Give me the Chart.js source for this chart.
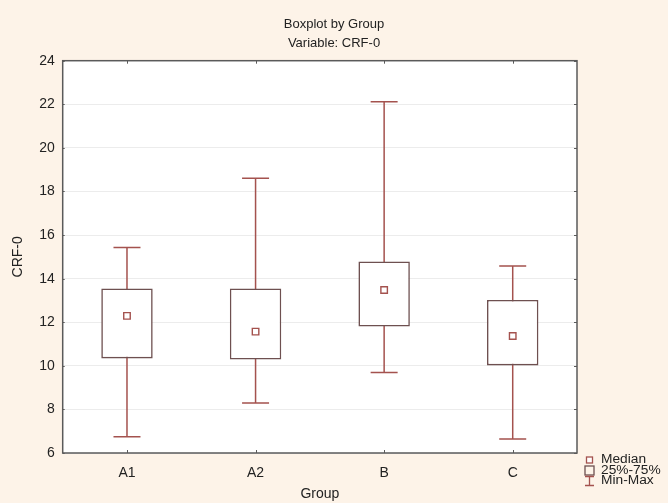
<!DOCTYPE html>
<html>
<head>
<meta charset="utf-8">
<script src="https://cdn.jsdelivr.net/npm/chart.js@4.4.1/dist/chart.umd.min.js"></script>
<style>
    html, body { margin: 0; padding: 0; background: #fdf3e8; }
    #wrap { width: 668px; height: 503px; position: relative; }
</style>
</head>
<body>
<div id="wrap"><canvas id="boxChart"></canvas></div>
<script>
// Data
const groups = ['A1', 'A2', 'B', 'C'];
const minVals = [6.75, 8.29, 9.69, 6.64];
const q1Vals = [10.34, 10.29, 11.8, 10.02];
const medianVals = [12.29, 11.57, 13.48, 11.37];
const q3Vals = [13.55, 13.55, 14.79, 13.02];
const maxVals = [15.43, 18.61, 22.12, 14.58];
const yTicks = [6, 8, 10, 12, 14, 16, 18, 20, 22, 24];

const legendItems = ['Median', '25%-75%', 'Min-Max'];

const FONT = 'Liberation Sans, Arial, Helvetica, sans-serif';
const WHISKER = '#a4524e';
const BOXLINE = '#6e5050';
const FRAME = '#5a5a5a';
const TEXT = '#222222';

// white plot area on the cream page
const plotBackground = {
    id: 'plotBackground',
    beforeDraw(chart) {
        const { ctx, chartArea: a } = chart;
        ctx.save();
        ctx.fillStyle = '#fdf3e8';
        ctx.fillRect(0, 0, chart.width, chart.height);
        ctx.fillStyle = '#ffffff';
        ctx.fillRect(a.left, a.top, a.right - a.left, a.bottom - a.top);
        ctx.restore();
    }
};

// min-max whiskers with caps, drawn under the boxes
const whiskers = {
    id: 'whiskers',
    beforeDatasetsDraw(chart) {
        const { ctx, scales: { x, y } } = chart;
        const capHalf = 13.5;
        ctx.save();
        ctx.strokeStyle = WHISKER;
        ctx.lineWidth = 1.5;
        groups.forEach((g, i) => {
            const px = x.getPixelForValue(i);
            const yLo = y.getPixelForValue(minVals[i]);
            const yHi = y.getPixelForValue(maxVals[i]);
            ctx.beginPath();
            ctx.moveTo(px, yLo);
            ctx.lineTo(px, yHi);
            ctx.moveTo(px - capHalf, yLo);
            ctx.lineTo(px + capHalf, yLo);
            ctx.moveTo(px - capHalf, yHi);
            ctx.lineTo(px + capHalf, yHi);
            ctx.stroke();
        });
        ctx.restore();
    }
};

// frame round the plot plus the small inner tick marks
const frame = {
    id: 'frame',
    afterDatasetsDraw(chart) {
        const { ctx, chartArea: a, scales: { x, y } } = chart;
        ctx.save();
        ctx.strokeStyle = FRAME;
        ctx.lineWidth = 1.5;
        ctx.strokeRect(a.left, a.top, a.right - a.left, a.bottom - a.top);
        ctx.lineWidth = 1;
        ctx.beginPath();
        groups.forEach((g, i) => {
            const px = Math.round(x.getPixelForValue(i)) + 0.5;
            ctx.moveTo(px, a.top);
            ctx.lineTo(px, a.top + 3);
            ctx.moveTo(px, a.bottom);
            ctx.lineTo(px, a.bottom - 3);
        });
        yTicks.forEach(v => {
            const py = Math.round(y.getPixelForValue(v)) + 0.5;
            ctx.moveTo(a.right, py);
            ctx.lineTo(a.right - 3, py);
            ctx.moveTo(a.left, py);
            ctx.lineTo(a.left + 2, py);
        });
        ctx.stroke();
        ctx.restore();
    }
};

// legend in the bottom right corner
const cornerLegend = {
    id: 'cornerLegend',
    afterDraw(chart) {
        const { ctx, chartArea: a } = chart;
        const ix = a.right + 8;
        const tx = a.right + 24;
        const rows = [a.bottom + 7, a.bottom + 17.5, a.bottom + 28];
        ctx.save();
        ctx.lineWidth = 1.3;

        // median marker
        ctx.strokeStyle = WHISKER;
        ctx.fillStyle = '#ffffff';
        ctx.fillRect(ix + 1.5, rows[0] - 3, 6, 6);
        ctx.strokeRect(ix + 1.5, rows[0] - 3, 6, 6);

        // box marker
        ctx.strokeStyle = BOXLINE;
        ctx.strokeRect(ix, rows[1] - 4.5, 9, 9);

        // whisker marker
        ctx.strokeStyle = WHISKER;
        ctx.beginPath();
        ctx.moveTo(ix + 4.5, rows[2] - 4.5);
        ctx.lineTo(ix + 4.5, rows[2] + 4.5);
        ctx.moveTo(ix, rows[2] - 4.5);
        ctx.lineTo(ix + 9, rows[2] - 4.5);
        ctx.moveTo(ix, rows[2] + 4.5);
        ctx.lineTo(ix + 9, rows[2] + 4.5);
        ctx.stroke();

        // slightly wide, short lettering like the original
        ctx.fillStyle = TEXT;
        ctx.font = '12.5px ' + FONT;
        ctx.textBaseline = 'middle';
        ctx.textAlign = 'left';
        legendItems.forEach((t, i) => {
            ctx.save();
            ctx.translate(tx, rows[i]);
            ctx.scale(1.1, 1);
            ctx.fillText(t, 0, 0);
            ctx.restore();
        });
        ctx.restore();
    }
};

const ctx = document.getElementById('boxChart').getContext('2d');

new Chart(ctx, {
    type: 'bar',
    data: {
        labels: groups,
        datasets: [
            {
                type: 'line',
                label: 'Median',
                data: medianVals,
                showLine: false,
                pointStyle: 'rect',
                pointRadius: 4.6,
                pointBackgroundColor: '#ffffff',
                pointBorderColor: WHISKER,
                pointBorderWidth: 1.4,
                order: 1
            },
            {
                label: '25%-75%',
                data: groups.map((g, i) => [q1Vals[i], q3Vals[i]]),
                backgroundColor: '#ffffff',
                borderColor: BOXLINE,
                borderWidth: 1.6,
                borderSkipped: false,
                barPercentage: 0.4,
                categoryPercentage: 1.0,
                order: 2
            }
        ]
    },
    options: {
        responsive: true,
        maintainAspectRatio: false,
        animation: false,
        layout: {
            padding: 0
        },
        plugins: {
            legend: { display: false },
            tooltip: { enabled: false },
            title: {
                display: true,
                text: ['Boxplot by Group', 'Variable: CRF-0'],
                color: TEXT,
                font: { family: FONT, size: 13, weight: 'normal', lineHeight: 1.45 },
                padding: { top: 15, bottom: 8 }
            }
        },
        scales: {
            x: {
                grid: { display: false },
                border: { display: false },
                ticks: {
                    color: TEXT,
                    font: { family: FONT, size: 14 },
                    padding: 4
                },
                title: {
                    display: true,
                    text: 'Group',
                    color: TEXT,
                    font: { family: FONT, size: 14 },
                    padding: { top: 2, bottom: 0 }
                },
                afterFit(scale) { scale.height = 50; }
            },
            y: {
                min: 6,
                max: 24,
                grid: {
                    color: '#ececec',
                    lineWidth: 1,
                    drawTicks: false
                },
                border: { display: false },
                afterBuildTicks(scale) {
                    scale.ticks = yTicks.map(v => ({ value: v }));
                },
                ticks: {
                    color: TEXT,
                    font: { family: FONT, size: 14 },
                    padding: 8
                },
                title: {
                    display: true,
                    text: 'CRF-0',
                    color: TEXT,
                    font: { family: FONT, size: 14 },
                    padding: { top: 10, bottom: 0 }
                },
                afterFit(scale) { scale.width = 62.7; }
            },
            // empty right axis that only reserves room for the legend
            yRight: {
                position: 'right',
                display: true,
                min: 6,
                max: 24,
                grid: { display: false, drawOnChartArea: false },
                border: { display: false },
                ticks: { display: false },
                afterFit(scale) { scale.width = 91; }
            }
        }
    },
    plugins: [plotBackground, whiskers, frame, cornerLegend]
});
</script>
</body>
</html>
